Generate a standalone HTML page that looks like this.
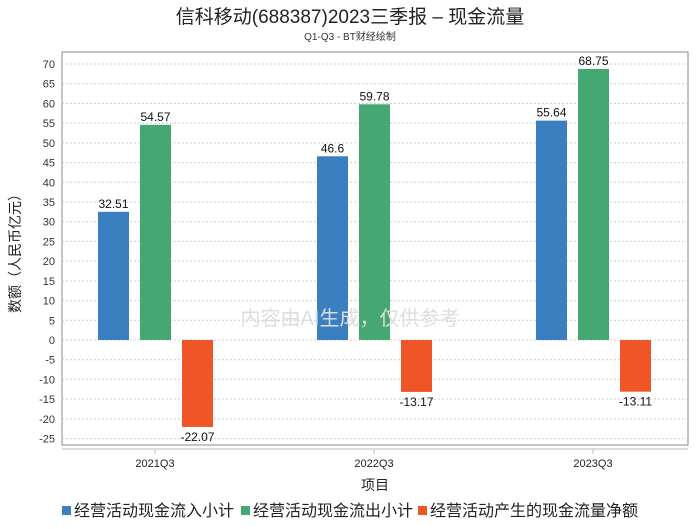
<!DOCTYPE html>
<html><head><meta charset="utf-8"><style>
body{margin:0;background:#fff;}
svg text{font-family:"Liberation Sans","Noto Sans CJK SC",sans-serif;}
</style></head><body>
<svg id="chart" width="700" height="524" viewBox="0 0 700 524">
<text x="350" y="23" text-anchor="middle" font-size="19" fill="#222">信科移动(688387)2023三季报 – 现金流量</text>
<text x="350" y="40" text-anchor="middle" font-size="10" fill="#333">Q1-Q3 - BT财经绘制</text>
<rect x="62" y="52" width="626" height="393" fill="none" stroke="#888"/>
<line x1="62" y1="449" x2="688" y2="449" stroke="#bbb"/>
<g id="grid"></g><g id="bars"></g><g id="xt"></g>
<text x="20" y="250" transform="rotate(-90 20 250)" text-anchor="middle" font-size="14" fill="#222">数额（人民币亿元）</text>
<text x="375" y="490" text-anchor="middle" font-size="14" fill="#222">项目</text>
<text x="350" y="325" text-anchor="middle" font-size="20" fill="#ddd">内容由AI生成，仅供参考</text>
<g>
<rect x="62" y="506" width="9" height="9" fill="#3a80c0"/>
<text x="74" y="516" font-size="16" fill="#222">经营活动现金流入小计</text>
<rect x="241" y="506" width="9" height="9" fill="#45a872"/>
<text x="253" y="516" font-size="16" fill="#222">经营活动现金流出小计</text>
<rect x="418" y="506" width="9" height="9" fill="#f05528"/>
<text x="430" y="516" font-size="16" fill="#222">经营活动产生的现金流量净额</text>
</g>
</svg>
<script>
const categories=["2021Q3","2022Q3","2023Q3"];
const inflow=[32.51,46.6,55.64];
const outflow=[54.57,59.78,68.75];
const net=[-22.07,-13.17,-13.11];
const yTicks=[70,65,60,55,50,45,40,35,30,25,20,15,10,5,0,-5,-10,-15,-20,-25];
const colors=["#3a80c0","#45a872","#f05528"];
const NS="http://www.w3.org/2000/svg";
function y(v){return 340-v*(276/70);}
function xc(i){return 155+i*219;}
function mk(tag,attrs,parent){const e=document.createElementNS(NS,tag);for(const k in attrs)e.setAttribute(k,attrs[k]);parent.appendChild(e);return e;}
const grid=document.getElementById('grid'),bars=document.getElementById('bars'),xt=document.getElementById('xt');
yTicks.forEach(t=>{
 const l=mk('line',{x1:62,x2:688,y1:y(t),y2:y(t),stroke:'#ccc','stroke-dasharray':'2,2'},grid);
 
 
 const tx=mk('text',{x:55,y:y(t)+4,'text-anchor':'end','font-size':11,fill:'#333'},grid);
 tx.textContent=t;
 
 
});
const series=[inflow,outflow,net];
categories.forEach((c,i)=>{
 const tk=mk('line',{x1:xc(i),x2:xc(i),y1:449,y2:454,stroke:'#bbb'},xt);
 
 
 const tl=mk('text',{x:xc(i),y:467,'text-anchor':'middle','font-size':11,fill:'#222'},xt);
 tl.textContent=c;
 
 
 series.forEach((s,j)=>{
  const v=s[i];const bx=xc(i)-57+j*42;
  const r=mk('rect',{x:bx,width:31,y:Math.min(y(v),y(0)),height:Math.abs(y(v)-y(0)),fill:colors[j]},bars);
  
  
  const lb=mk('text',{x:bx+15.5,y:v>=0?y(v)-4:y(v)+14,'text-anchor':'middle','font-size':12,fill:'#111'},bars);
  lb.textContent=v;
  
  
 });
});
</script>
</body></html>
